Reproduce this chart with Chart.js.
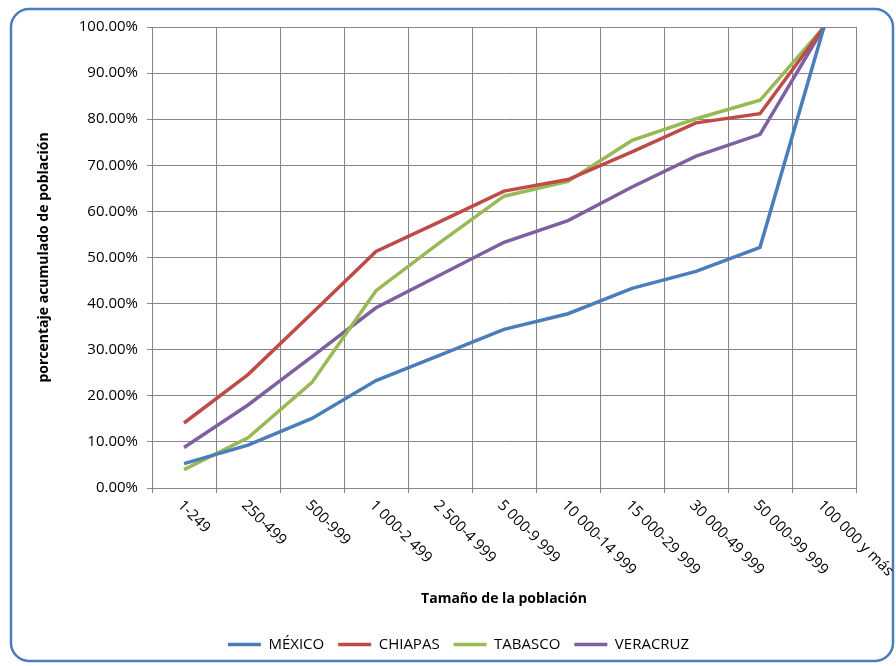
<!DOCTYPE html>
<html>
<head>
<meta charset="utf-8">
<script src="https://cdn.jsdelivr.net/npm/chart.js@4"></script>
<style>
  html, body { margin: 0; padding: 0; background: #fff; }
</style>
</head>
<body>
<canvas id="chart" width="896" height="666"></canvas>
<script>
// categorías (tamaño de la localidad)
const categories = ['1-249', '250-499', '500-999', '1 000-2 499', '2 500-4 999', '5 000-9 999',
  '10 000-14 999', '15 000-29 999', '30 000-49 999', '50 000-99 999', '100 000 y más'];

// porcentaje acumulado de población
const mexico   = [5.3, 9.3, 15.1, 23.3, 28.8, 34.4, 37.8, 43.3, 47.0, 52.2, 100];
const chiapas  = [14.1, 24.6, 37.9, 51.3, 57.8, 64.4, 66.9, 72.9, 79.2, 81.2, 100];
const tabasco  = [4.0, 10.9, 22.9, 42.8, 53.3, 63.3, 66.5, 75.4, 80.1, 84.1, 100];
const veracruz = [8.8, 18.0, 28.5, 39.1, 46.2, 53.3, 58.0, 65.3, 72.0, 76.7, 100];

const seriesNames = ['MÉXICO', 'CHIAPAS', 'TABASCO', 'VERACRUZ'];
const seriesColors = ['#4A7EBB', '#BE4B48', '#98B954', '#7D60A0'];

const FONT = '"Open Sans", "Noto Sans", sans-serif';

// marco redondeado alrededor del gráfico
const framePlugin = {
  id: 'frame',
  beforeDraw(chart) {
    const ctx = chart.ctx;
    const x = 11, y = 9, w = 882, h = 652, r = 18;
    ctx.save();
    ctx.fillStyle = '#fff';
    ctx.fillRect(0, 0, chart.width, chart.height);
    ctx.beginPath();
    ctx.moveTo(x + r, y);
    ctx.arcTo(x + w, y, x + w, y + h, r);
    ctx.arcTo(x + w, y + h, x, y + h, r);
    ctx.arcTo(x, y + h, x, y, r);
    ctx.arcTo(x, y, x + w, y, r);
    ctx.closePath();
    ctx.lineWidth = 2.5;
    ctx.strokeStyle = '#4A7EBB';
    ctx.stroke();
    ctx.restore();
  }
};

// etiquetas del eje x inclinadas hacia abajo
const xLabelPlugin = {
  id: 'xLabels',
  afterDraw(chart) {
    const scale = chart.scales.x;
    const ctx = chart.ctx;
    ctx.save();
    ctx.font = '15px ' + FONT;
    ctx.fillStyle = '#000';
    ctx.textAlign = 'left';
    ctx.textBaseline = 'middle';
    categories.forEach((label, i) => {
      const px = scale.getPixelForValue(i);
      ctx.save();
      ctx.translate(px - 4, scale.top + 15);
      ctx.rotate(Math.PI / 4);
      ctx.fillText(label, 0, 0);
      ctx.restore();
    });
    ctx.restore();
  }
};

const datasets = [mexico, chiapas, tabasco, veracruz].map((values, i) => ({
  label: seriesNames[i],
  data: values,
  borderColor: seriesColors[i],
  backgroundColor: seriesColors[i],
  borderWidth: 3.5,
  pointRadius: 0,
  pointStyle: 'line',
  tension: 0
}));

const chart = new Chart(document.getElementById('chart'), {
  type: 'line',
  data: { labels: categories, datasets },
  plugins: [framePlugin, xLabelPlugin],
  options: {
    responsive: false,
    animation: false,
    devicePixelRatio: 1,
    layout: { padding: { left: 61, top: 27, right: 40, bottom: 4 } },
    plugins: {
      tooltip: { enabled: false },
      legend: {
        position: 'bottom',
        labels: {
          usePointStyle: true,
          pointStyleWidth: 33,
          color: '#000',
          padding: 14,
          font: { family: FONT, size: 15 }
        }
      }
    },
    scales: {
      x: {
        offset: true,
        grid: { color: '#868686', offset: true, tickLength: 5 },
        border: { color: '#868686' },
        ticks: { display: false },
        title: {
          display: true,
          text: 'Tamaño de la población',
          color: '#000',
          font: { family: FONT, size: 14, weight: 'bold' },
          padding: { top: 4, bottom: 16 }
        },
        afterFit(scale) { scale.height = 135; }
      },
      y: {
        min: 0,
        max: 100,
        ticks: {
          stepSize: 10,
          color: '#000',
          padding: 9,
          font: { family: FONT, size: 15 },
          callback: v => v.toFixed(2) + '%'
        },
        grid: { color: '#868686', tickLength: 5 },
        border: { color: '#868686' },
        title: {
          display: true,
          text: 'porcentaje acumulado de población',
          color: '#000',
          font: { family: FONT, size: 14, weight: 'bold' },
          padding: { top: -25, bottom: 4 }
        },
        afterFit(scale) { scale.width = 91; }
      }
    }
  }
});
</script>
</body>
</html>
